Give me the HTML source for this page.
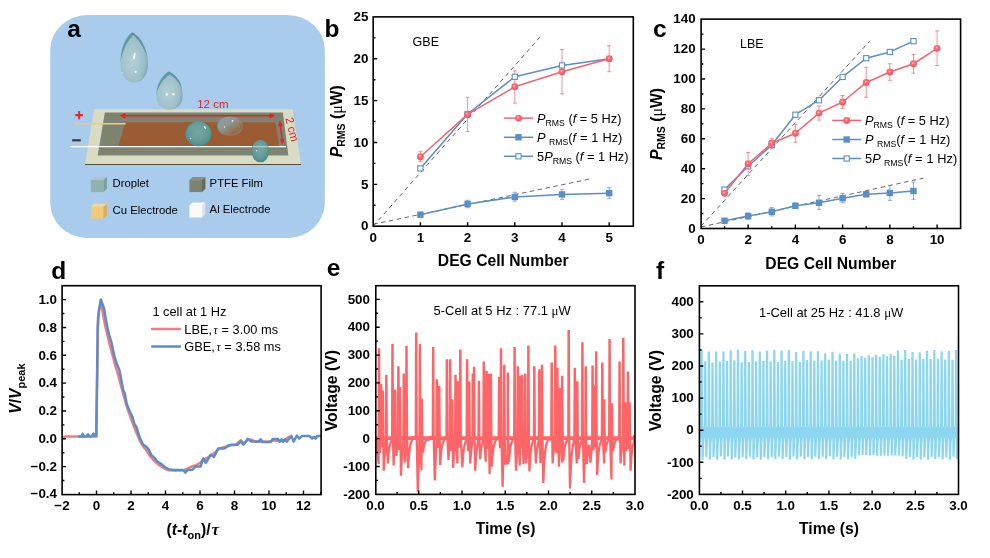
<!DOCTYPE html>
<html lang="en">
<head>
<meta charset="utf-8">
<title>DEG cell figure</title>
<style>
html,body{margin:0;padding:0;background:#fff;}
body{width:990px;height:558px;overflow:hidden;}
svg{display:block;}
text{font-family:'Liberation Sans',sans-serif;fill:#000;}
.tk{font-size:13.4px;font-weight:bold;}
.ax{font-size:15.7px;font-weight:bold;}
.pl{font-size:24.5px;font-weight:bold;}
.lg{font-size:12.8px;}
.sm{font-size:11.3px;}
.sym{font-family:'Liberation Serif','DejaVu Serif',serif;}
</style>
</head>
<body>
<svg width="990" height="558" viewBox="0 0 990 558">
<defs>
<radialGradient id="gball" cx="0.43" cy="0.4" r="0.62">
<stop offset="0" stop-color="#fe9aa0"/><stop offset="0.3" stop-color="#fb707a"/><stop offset="0.7" stop-color="#f95c68"/><stop offset="1" stop-color="#f4505e"/>
</radialGradient>
<radialGradient id="gdrop" cx="0.42" cy="0.55" r="0.65">
<stop offset="0" stop-color="#b4cfd6"/><stop offset="0.7" stop-color="#9dbfc8"/><stop offset="1" stop-color="#6f9ea9"/>
</radialGradient>
<radialGradient id="gdrop2" cx="0.5" cy="0.42" r="0.62">
<stop offset="0" stop-color="#74a8a2"/><stop offset="0.6" stop-color="#649c98"/><stop offset="1" stop-color="#4a8488"/>
</radialGradient>
<linearGradient id="gdrop3" x1="0.1" y1="0.1" x2="0.9" y2="0.9">
<stop offset="0" stop-color="#7fa3ad"/><stop offset="0.4" stop-color="#8d958f"/><stop offset="0.8" stop-color="#9a6a4a"/><stop offset="1" stop-color="#8a7d70"/>
</linearGradient>
<filter id="blur1" x="-20%" y="-20%" width="140%" height="140%"><feGaussianBlur stdDeviation="0.6"/></filter>
</defs>
<rect width="990" height="558" fill="#fff"/>

<g id="panel-a">
<rect x="50.3" y="15" width="274.5" height="222.9" rx="37" ry="35" fill="#a9cbec"/>
<text class="pl" x="67.3" y="36.6">a</text>
<polygon points="85,163.6 301,163.6 301,165.1 85,165.1" fill="#4d503c"/>
<polygon points="94.1,109.2 292.5,109.2 300.9,163.9 85,163.9" fill="#d9dcc3"/>
<polygon points="104.8,112.6 282.9,112.6 288.3,155.6 97.7,155.6" fill="#7d8370"/>
<polygon points="125.3,122.3 275.4,122.3 279.2,146.3 118.4,146.3" fill="#9b5b33"/>
<line x1="74" y1="123.8" x2="125.7" y2="123.8" stroke="#f2c978" stroke-width="1.6"/>
<line x1="70.4" y1="146.7" x2="286" y2="146.7" stroke="#fff" stroke-width="1.2"/>
<line x1="124" y1="115.8" x2="271" y2="115.8" stroke="#ee1c24" stroke-width="1.4"/>
<polygon points="119.6,115.8 125.4,113.1 125.4,118.5" fill="#ee1c24"/>
<polygon points="275.3,115.8 269.5,113.1 269.5,118.5" fill="#ee1c24"/>
<line x1="280.2" y1="124.5" x2="282.2" y2="140.5" stroke="#ee1c24" stroke-width="1.4"/>
<polygon points="279.7,120.4 277.9,126.3 282.7,125.7" fill="#ee1c24"/>
<polygon points="282.7,144.6 279.7,139.3 284.5,138.7" fill="#ee1c24"/>
<text x="197.2" y="107.8" style="font-size:11.5px;fill:#ee1c24">12 cm</text>
<text transform="translate(285.2,118.2) rotate(76)" style="font-size:11.5px;fill:#ee1c24">2 cm</text>
<text x="75.1" y="119.7" style="font-size:14px;font-weight:bold;fill:#ee1c24;stroke:#ee1c24;stroke-width:0.5">+</text>
<rect x="72.2" y="139.2" width="8.6" height="2.2" fill="#3a3a3a"/>
<path d="M132.4 32.3 C140.89 37.85 147.9 46.44 147.9 64.62 C147.9 75.53 142.15 82.8 134.2 82.8 C126.25 82.8 120.5 75.53 120.5 64.62 C120.5 46.44 123.91 37.85 132.4 32.3Z" fill="url(#gdrop)"/>
<clipPath id="cd1"><path d="M132.4 32.3 C140.89 37.85 147.9 46.44 147.9 64.62 C147.9 75.53 142.15 82.8 134.2 82.8 C126.25 82.8 120.5 75.53 120.5 64.62 C120.5 46.44 123.91 37.85 132.4 32.3Z"/></clipPath>
<g clip-path="url(#cd1)"><path d="M132.4 31 C125 39 119.5 52 119.5 66 C122 51 127 41 133.4 35.2 C138.6 40 143.6 47 147 56 C145.4 46 140 37 133.4 31Z" fill="#4a8794" opacity="0.7" filter="url(#blur1)"/></g>
<ellipse cx="134.4" cy="56" rx="1" ry="3.4" fill="#fff" opacity="0.9" transform="rotate(8 134.4 56)"/>
<circle cx="135.6" cy="71.8" r="1.1" fill="#fff" opacity="0.95"/>
<circle cx="122.8" cy="73" r="0.7" fill="#fff" opacity="0.6"/>
<path d="M169 71.6 C177.12 75.8 182.6 82.3 182.6 96.05 C182.6 104.3 177.1 109.8 169.5 109.8 C161.9 109.8 156.4 104.3 156.4 96.05 C156.4 82.3 160.88 75.8 169 71.6Z" fill="url(#gdrop)"/>
<clipPath id="cd2"><path d="M169 71.6 C177.12 75.8 182.6 82.3 182.6 96.05 C182.6 104.3 177.1 109.8 169.5 109.8 C161.9 109.8 156.4 104.3 156.4 96.05 C156.4 82.3 160.88 75.8 169 71.6Z"/></clipPath>
<g clip-path="url(#cd2)"><path d="M169 70.4 C161.6 76 156 86 156 96 C158 86.4 163 79.4 169.6 74.6 C175.4 78 180.5 84 183 91 C181.6 82 176 75 169.4 70.4Z" fill="#4a8794" opacity="0.7" filter="url(#blur1)"/></g>
<circle cx="166.8" cy="94.4" r="1.2" fill="#fff" opacity="0.9"/>
<circle cx="173.4" cy="94.2" r="1.2" fill="#fff" opacity="0.9"/>
<ellipse cx="230.2" cy="126.2" rx="12.9" ry="9.8" fill="url(#gdrop3)"/>
<circle cx="232.5" cy="120.8" r="0.9" fill="#fff" opacity="0.9"/>
<circle cx="224.5" cy="127" r="0.7" fill="#fff" opacity="0.8"/>
<ellipse cx="198.4" cy="133.8" rx="13" ry="12.4" fill="url(#gdrop2)"/>
<ellipse cx="205" cy="127.5" rx="0.9" ry="1.6" fill="#fff" opacity="0.85" transform="rotate(-30 205 127.5)"/>
<circle cx="190.6" cy="138.5" r="0.7" fill="#fff" opacity="0.7"/>
<rect x="251.9" y="140" width="16.8" height="22.2" rx="8" ry="9.5" fill="url(#gdrop2)"/>
<line x1="253" y1="146.7" x2="267.6" y2="146.7" stroke="#d4e2e2" stroke-width="1" opacity="0.8"/>
<circle cx="256.5" cy="150.8" r="0.7" fill="#fff" opacity="0.8"/>
<polygon points="90.9,180.1 94.1,177.1 106.9,177.1 103.5,180.1" fill="#a9c6c3"/><rect x="90.9" y="180.1" width="12.6" height="12" fill="#90b1ae"/><polygon points="103.5,180.1 106.9,177.1 106.9,188.7 103.5,192.1" fill="#7b9f9c"/>
<polygon points="189.4,180.1 192.6,177.1 205.4,177.1 202,180.1" fill="#8d917d"/><rect x="189.4" y="180.1" width="12.6" height="12" fill="#7d8370"/><polygon points="202,180.1 205.4,177.1 205.4,188.7 202,192.1" fill="#666b59"/>
<polygon points="90.9,206.7 94.1,203.7 106.9,203.7 103.5,206.7" fill="#f7d793"/><rect x="90.9" y="206.7" width="12.6" height="12" fill="#f2c978"/><polygon points="103.5,206.7 106.9,203.7 106.9,215.3 103.5,218.7" fill="#d9ad5c"/>
<polygon points="189.4,205.5 192.6,202.5 205.4,202.5 202,205.5" fill="#ffffff"/><rect x="189.4" y="205.5" width="12.6" height="12" fill="#fbfbfb"/><polygon points="202,205.5 205.4,202.5 205.4,214.1 202,217.5" fill="#dfe2e6"/>
<text class="sm" x="112.6" y="186.8">Droplet</text>
<text class="sm" x="209.6" y="186.8">PTFE Film</text>
<text class="sm" x="112.6" y="213.8">Cu Electrode</text>
<text class="sm" x="209.6" y="212.7">Al Electrode</text>
</g>
<g id="panel-b">
<text class="pl" x="324.4" y="36.8">b</text>
<line x1="373.2" y1="226.2" x2="541.89" y2="34.9" stroke="#555" stroke-width="0.9" stroke-dasharray="4.5 3.5"/>
<line x1="373.2" y1="224.27" x2="589.38" y2="179.07" stroke="#555" stroke-width="0.9" stroke-dasharray="4.5 3.5"/>
<path d="M420.4 212.39V216.99M418.3 212.39h4.2M418.3 216.99h4.2M467.6 200.25V207.78M465.5 200.25h4.2M465.5 207.78h4.2M514.8 192.29V201.08M512.7 192.29h4.2M512.7 201.08h4.2M562 189.36V199.41M559.9 189.36h4.2M559.9 199.41h4.2M609.2 187.69V198.57M607.1 187.69h4.2M607.1 198.57h4.2" fill="none" stroke="#5b8ec9" stroke-width="1" opacity="0.7"/>
<path d="M420.4 214.65 L467.6 204.01 L514.8 196.9 L562 194.39 L609.2 193.13" fill="none" stroke="#5b8ec9" stroke-width="1.5" stroke-linejoin="round" stroke-linecap="round" />
<rect x="417.2" y="211.45" width="6.4" height="6.4" fill="#5b8ec9"/><rect x="464.4" y="200.81" width="6.4" height="6.4" fill="#5b8ec9"/><rect x="511.6" y="193.7" width="6.4" height="6.4" fill="#5b8ec9"/><rect x="558.8" y="191.19" width="6.4" height="6.4" fill="#5b8ec9"/><rect x="606" y="189.93" width="6.4" height="6.4" fill="#5b8ec9"/>
<path d="M420.4 168.43 L467.6 114.02 L514.8 76.76 L562 65.46 L609.2 58.76" fill="none" stroke="#5b8ec9" stroke-width="1.5" stroke-linejoin="round" stroke-linecap="round" />
<path d="M420.4 151.27V161.32M418.3 151.27h4.2M418.3 161.32h4.2M467.6 97.27V131.6M465.5 97.27h4.2M465.5 131.6h4.2M514.8 70.9V103.13M512.7 70.9h4.2M512.7 103.13h4.2M562 49.55V93.92M559.9 49.55h4.2M559.9 93.92h4.2M609.2 45.78V71.74M607.1 45.78h4.2M607.1 71.74h4.2" fill="none" stroke="#f6626c" stroke-width="1" opacity="0.7"/>
<path d="M420.4 156.71 L467.6 114.43 L514.8 86.81 L562 71.74 L609.2 58.76" fill="none" stroke="#f6626c" stroke-width="1.5" stroke-linejoin="round" stroke-linecap="round" />
<rect x="417.8" y="165.83" width="5.2" height="5.2" fill="#fff" stroke="#5b8ec9" stroke-width="1.1"/><rect x="465" y="111.42" width="5.2" height="5.2" fill="#fff" stroke="#5b8ec9" stroke-width="1.1"/><rect x="512.2" y="74.16" width="5.2" height="5.2" fill="#fff" stroke="#5b8ec9" stroke-width="1.1"/><rect x="559.4" y="62.86" width="5.2" height="5.2" fill="#fff" stroke="#5b8ec9" stroke-width="1.1"/>
<circle cx="420.4" cy="156.71" r="3.45" fill="url(#gball)"/><circle cx="419.9" cy="156.01" r="0.8" fill="#fff" opacity="0.55"/><circle cx="467.6" cy="114.43" r="3.45" fill="url(#gball)"/><circle cx="467.1" cy="113.73" r="0.8" fill="#fff" opacity="0.55"/><circle cx="514.8" cy="86.81" r="3.45" fill="url(#gball)"/><circle cx="514.3" cy="86.11" r="0.8" fill="#fff" opacity="0.55"/><circle cx="562" cy="71.74" r="3.45" fill="url(#gball)"/><circle cx="561.5" cy="71.04" r="0.8" fill="#fff" opacity="0.55"/><circle cx="609.2" cy="58.76" r="3.45" fill="url(#gball)"/><circle cx="608.7" cy="58.06" r="0.8" fill="#fff" opacity="0.55"/>
<rect x="373.2" y="16.9" width="260.1" height="209.3" fill="none" stroke="#000" stroke-width="1.6"/>
<path d="M420.4 226.2v-4.0M467.6 226.2v-4.0M514.8 226.2v-4.0M562 226.2v-4.0M609.2 226.2v-4.0M373.2 184.34h4.0M373.2 142.48h4.0M373.2 100.62h4.0M373.2 58.76h4.0M373.2 205.27h2.3M373.2 163.41h2.3M373.2 121.55h2.3M373.2 79.69h2.3M373.2 37.83h2.3" stroke="#000" stroke-width="1.4" fill="none"/>
<text class="tk" x="373.2" y="241.6" text-anchor="middle">0</text><text class="tk" x="420.4" y="241.6" text-anchor="middle">1</text><text class="tk" x="467.6" y="241.6" text-anchor="middle">2</text><text class="tk" x="514.8" y="241.6" text-anchor="middle">3</text><text class="tk" x="562" y="241.6" text-anchor="middle">4</text><text class="tk" x="609.2" y="241.6" text-anchor="middle">5</text>
<text class="tk" x="368.5" y="230.45" text-anchor="end">0</text><text class="tk" x="368.5" y="188.59" text-anchor="end">5</text><text class="tk" x="368.5" y="146.73" text-anchor="end">10</text><text class="tk" x="368.5" y="104.87" text-anchor="end">15</text><text class="tk" x="368.5" y="63.01" text-anchor="end">20</text><text class="tk" x="368.5" y="21.15" text-anchor="end">25</text>
<text class="ax" x="503.2" y="265.9" text-anchor="middle">DEG Cell Number</text>
<text class="ax" transform="translate(341.9,157.2) rotate(-90)"><tspan font-style="italic">P</tspan><tspan font-size="10.5" dy="3.2">RMS</tspan><tspan dy="-3.2"> (</tspan><tspan class="sym" font-weight="normal" font-size="16">μ</tspan>W)</text>
<text x="412.6" y="45.9" style="font-size:12.5px">GBE</text>
<line x1="503.9" y1="118.1" x2="533.1" y2="118.1" stroke="#f6626c" stroke-width="1.5"/><circle cx="518.5" cy="118.1" r="3.45" fill="url(#gball)"/><circle cx="518" cy="117.4" r="0.8" fill="#fff" opacity="0.55"/><line x1="503.9" y1="137.3" x2="533.1" y2="137.3" stroke="#5b8ec9" stroke-width="1.5"/><rect x="515.3" y="134.1" width="6.4" height="6.4" fill="#5b8ec9"/><line x1="503.9" y1="156.3" x2="533.1" y2="156.3" stroke="#5b8ec9" stroke-width="1.5"/><rect x="515.9" y="153.7" width="5.2" height="5.2" fill="#fff" stroke="#5b8ec9" stroke-width="1.1"/><text class="lg" x="537" y="122.9"><tspan font-style="italic">P</tspan><tspan font-size="8.7" dy="2.8">RMS</tspan><tspan dy="-2.8"> (</tspan><tspan font-style="italic">f</tspan> = 5 Hz)</text><text class="lg" x="537" y="142" word-spacing="0.35"><tspan font-style="italic">P</tspan><tspan font-size="8.7" dy="2.8" dx="3.4">RMS</tspan><tspan dy="-2.8">(</tspan><tspan font-style="italic">f</tspan> = 1 Hz)</text><text class="lg" x="537" y="160.7">5<tspan font-style="italic">P</tspan><tspan font-size="8.7" dy="2.8">RMS</tspan><tspan dy="-2.8"> (</tspan><tspan font-style="italic">f</tspan> = 1 Hz)</text>
</g>
<g id="panel-c">
<text class="pl" x="652.9" y="36.7">c</text>
<line x1="700.9" y1="226.26" x2="869.55" y2="41.33" stroke="#555" stroke-width="0.9" stroke-dasharray="4.5 3.5"/>
<line x1="700.9" y1="227" x2="923.4" y2="178.12" stroke="#555" stroke-width="0.9" stroke-dasharray="4.5 3.5"/>
<path d="M724.52 218.93V222.52M722.42 218.93h4.2M722.42 222.52h4.2M748.14 212.95V219.23M746.04 212.95h4.2M746.04 219.23h4.2M771.76 207.57V215.94M769.66 207.57h4.2M769.66 215.94h4.2M795.38 203.09V208.32M793.28 203.09h4.2M793.28 208.32h4.2M819 195.61V209.36M816.9 195.61h4.2M816.9 209.36h4.2M842.62 193.52V202.64M840.52 193.52h4.2M840.52 202.64h4.2M866.24 191.72V196.81M864.14 191.72h4.2M864.14 196.81h4.2M889.86 185.44V200.39M887.76 185.44h4.2M887.76 200.39h4.2M913.48 182.16V199.35M911.38 182.16h4.2M911.38 199.35h4.2" fill="none" stroke="#5b8ec9" stroke-width="1" opacity="0.7"/>
<path d="M724.52 220.73 L748.14 216.09 L771.76 211.76 L795.38 205.78 L819 202.79 L842.62 198.15 L866.24 194.26 L889.86 192.92 L913.48 190.98" fill="none" stroke="#5b8ec9" stroke-width="1.5" stroke-linejoin="round" stroke-linecap="round" />
<rect x="721.32" y="217.53" width="6.4" height="6.4" fill="#5b8ec9"/><rect x="744.94" y="212.89" width="6.4" height="6.4" fill="#5b8ec9"/><rect x="768.56" y="208.56" width="6.4" height="6.4" fill="#5b8ec9"/><rect x="792.18" y="202.58" width="6.4" height="6.4" fill="#5b8ec9"/><rect x="815.8" y="199.59" width="6.4" height="6.4" fill="#5b8ec9"/><rect x="839.42" y="194.95" width="6.4" height="6.4" fill="#5b8ec9"/><rect x="863.04" y="191.06" width="6.4" height="6.4" fill="#5b8ec9"/><rect x="886.66" y="189.72" width="6.4" height="6.4" fill="#5b8ec9"/><rect x="910.28" y="187.78" width="6.4" height="6.4" fill="#5b8ec9"/>
<path d="M724.52 189.63 L748.14 166.31 L771.76 145.08 L795.38 114.73 L819 100.23 L842.62 76.91 L866.24 58.22 L889.86 51.94 L913.48 41.18" fill="none" stroke="#5b8ec9" stroke-width="1.5" stroke-linejoin="round" stroke-linecap="round" />
<rect x="721.92" y="187.03" width="5.2" height="5.2" fill="#fff" stroke="#5b8ec9" stroke-width="1.1"/><rect x="745.54" y="163.71" width="5.2" height="5.2" fill="#fff" stroke="#5b8ec9" stroke-width="1.1"/><rect x="769.16" y="142.48" width="5.2" height="5.2" fill="#fff" stroke="#5b8ec9" stroke-width="1.1"/><rect x="792.78" y="112.13" width="5.2" height="5.2" fill="#fff" stroke="#5b8ec9" stroke-width="1.1"/><rect x="816.4" y="97.63" width="5.2" height="5.2" fill="#fff" stroke="#5b8ec9" stroke-width="1.1"/><rect x="840.02" y="74.31" width="5.2" height="5.2" fill="#fff" stroke="#5b8ec9" stroke-width="1.1"/><rect x="863.64" y="55.62" width="5.2" height="5.2" fill="#fff" stroke="#5b8ec9" stroke-width="1.1"/><rect x="887.26" y="49.34" width="5.2" height="5.2" fill="#fff" stroke="#5b8ec9" stroke-width="1.1"/><rect x="910.88" y="38.58" width="5.2" height="5.2" fill="#fff" stroke="#5b8ec9" stroke-width="1.1"/>
<path d="M724.52 191.12V195.61M722.42 191.12h4.2M722.42 195.61h4.2M748.14 152.55V175.58M746.04 152.55h4.2M746.04 175.58h4.2M771.76 138.8V147.77M769.66 138.8h4.2M769.66 147.77h4.2M795.38 124.6V142.24M793.28 124.6h4.2M793.28 142.24h4.2M819 105.91V120.11M816.9 105.91h4.2M816.9 120.11h4.2M842.62 95.44V108.3M840.52 95.44h4.2M840.52 108.3h4.2M866.24 67.34V97.24M864.14 67.34h4.2M864.14 97.24h4.2M889.86 63.75V80.35M887.76 63.75h4.2M887.76 80.35h4.2M913.48 54.48V73.17M911.38 54.48h4.2M911.38 73.17h4.2M937.1 30.86V65.54M935 30.86h4.2M935 65.54h4.2" fill="none" stroke="#f6626c" stroke-width="1" opacity="0.7"/>
<path d="M724.52 193.37 L748.14 163.77 L771.76 143.28 L795.38 133.27 L819 113.09 L842.62 102.02 L866.24 82.44 L889.86 71.97 L913.48 63.75 L937.1 48.35" fill="none" stroke="#f6626c" stroke-width="1.5" stroke-linejoin="round" stroke-linecap="round" />
<circle cx="724.52" cy="193.37" r="3.45" fill="url(#gball)"/><circle cx="724.02" cy="192.67" r="0.8" fill="#fff" opacity="0.55"/><circle cx="748.14" cy="163.77" r="3.45" fill="url(#gball)"/><circle cx="747.64" cy="163.07" r="0.8" fill="#fff" opacity="0.55"/><circle cx="771.76" cy="143.28" r="3.45" fill="url(#gball)"/><circle cx="771.26" cy="142.59" r="0.8" fill="#fff" opacity="0.55"/><circle cx="795.38" cy="133.27" r="3.45" fill="url(#gball)"/><circle cx="794.88" cy="132.57" r="0.8" fill="#fff" opacity="0.55"/><circle cx="819" cy="113.09" r="3.45" fill="url(#gball)"/><circle cx="818.5" cy="112.39" r="0.8" fill="#fff" opacity="0.55"/><circle cx="842.62" cy="102.02" r="3.45" fill="url(#gball)"/><circle cx="842.12" cy="101.32" r="0.8" fill="#fff" opacity="0.55"/><circle cx="866.24" cy="82.44" r="3.45" fill="url(#gball)"/><circle cx="865.74" cy="81.74" r="0.8" fill="#fff" opacity="0.55"/><circle cx="889.86" cy="71.97" r="3.45" fill="url(#gball)"/><circle cx="889.36" cy="71.27" r="0.8" fill="#fff" opacity="0.55"/><circle cx="913.48" cy="63.75" r="3.45" fill="url(#gball)"/><circle cx="912.98" cy="63.05" r="0.8" fill="#fff" opacity="0.55"/><circle cx="937.1" cy="48.35" r="3.45" fill="url(#gball)"/><circle cx="936.6" cy="47.65" r="0.8" fill="#fff" opacity="0.55"/>
<rect x="701.1" y="19.1" width="259.5" height="209.4" fill="none" stroke="#000" stroke-width="1.6"/>
<path d="M748.14 228.5v-4.0M795.38 228.5v-4.0M842.62 228.5v-4.0M889.86 228.5v-4.0M937.1 228.5v-4.0M724.52 228.5v-2.3M771.76 228.5v-2.3M819 228.5v-2.3M866.24 228.5v-2.3M913.48 228.5v-2.3M701.1 198.6h4.0M701.1 168.7h4.0M701.1 138.8h4.0M701.1 108.9h4.0M701.1 79h4.0M701.1 49.1h4.0M701.1 213.55h2.3M701.1 183.65h2.3M701.1 153.75h2.3M701.1 123.85h2.3M701.1 93.95h2.3M701.1 64.05h2.3M701.1 34.15h2.3" stroke="#000" stroke-width="1.4" fill="none"/>
<text class="tk" x="700.9" y="243.5" text-anchor="middle">0</text><text class="tk" x="748.14" y="243.5" text-anchor="middle">2</text><text class="tk" x="795.38" y="243.5" text-anchor="middle">4</text><text class="tk" x="842.62" y="243.5" text-anchor="middle">6</text><text class="tk" x="889.86" y="243.5" text-anchor="middle">8</text><text class="tk" x="937.1" y="243.5" text-anchor="middle">10</text>
<text class="tk" x="695.6" y="232.75" text-anchor="end">0</text><text class="tk" x="695.6" y="202.85" text-anchor="end">20</text><text class="tk" x="695.6" y="172.95" text-anchor="end">40</text><text class="tk" x="695.6" y="143.05" text-anchor="end">60</text><text class="tk" x="695.6" y="113.15" text-anchor="end">80</text><text class="tk" x="695.6" y="83.25" text-anchor="end">100</text><text class="tk" x="695.6" y="53.35" text-anchor="end">120</text><text class="tk" x="695.6" y="23.45" text-anchor="end">140</text>
<text class="ax" x="830.7" y="268.9" text-anchor="middle">DEG Cell Number</text>
<text class="ax" transform="translate(661.9,160) rotate(-90)"><tspan font-style="italic">P</tspan><tspan font-size="10.5" dy="3.2">RMS</tspan><tspan dy="-3.2"> (</tspan><tspan class="sym" font-weight="normal" font-size="16">μ</tspan>W)</text>
<text x="740" y="47.7" style="font-size:12.5px">LBE</text>
<line x1="832.2" y1="120.4" x2="861.2" y2="120.4" stroke="#f6626c" stroke-width="1.5"/><circle cx="846.7" cy="120.4" r="3.45" fill="url(#gball)"/><circle cx="846.2" cy="119.7" r="0.8" fill="#fff" opacity="0.55"/><line x1="832.2" y1="139.5" x2="861.2" y2="139.5" stroke="#5b8ec9" stroke-width="1.5"/><rect x="843.5" y="136.3" width="6.4" height="6.4" fill="#5b8ec9"/><line x1="832.2" y1="158.5" x2="861.2" y2="158.5" stroke="#5b8ec9" stroke-width="1.5"/><rect x="844.1" y="155.9" width="5.2" height="5.2" fill="#fff" stroke="#5b8ec9" stroke-width="1.1"/><text class="lg" x="865" y="125"><tspan font-style="italic">P</tspan><tspan font-size="8.7" dy="2.8">RMS</tspan><tspan dy="-2.8"> (</tspan><tspan font-style="italic">f</tspan> = 5 Hz)</text><text class="lg" x="865" y="144" word-spacing="0.35"><tspan font-style="italic">P</tspan><tspan font-size="8.7" dy="2.8" dx="3.4">RMS</tspan><tspan dy="-2.8">(</tspan><tspan font-style="italic">f</tspan> = 1 Hz)</text><text class="lg" x="865" y="162.9" word-spacing="0.3">5<tspan font-style="italic">P</tspan><tspan font-size="8.7" dy="2.8" dx="3.4">RMS</tspan><tspan dy="-2.8">(</tspan><tspan font-style="italic">f</tspan> = 1 Hz)</text>
</g>
<g id="panel-d">
<text class="pl" x="51.2" y="279">d</text>
<path d="M62.5 438.6 L64.2 436.6 L96.2 436.6 L97.2 380 L98 318 L100.9 300.2 L102.4 310 L104 320 L106.4 331 L109.4 343.5 L112.4 354.6 L116 368 L118.5 376 L121 386 L123.5 395 L126 404 L128.5 411.5 L131 418.5 L134 426.5 L137 434 L140 441 L143 446.2 L146.5 450.4 L150 456 L153.5 460 L157 463.4 L161 466.4 L165 468.8 L169 470.2 L175 470.4 L184 470.2 L188 468.4 L192 466.4 L196 465.2 L200 463 L203 459.6 L207 458 L211 455 L215 452.6 L219 448.6 L223 447.4 L227 446.6 L231 444.8 L236 444.4 L240.8 440.2 L244 443.4 L248.5 439.4 L252 439.8 L256 441.8 L262 441.4 L268 441.8 L273 440.4 L278 440.8 L283 441.4 L287 438.2 L289.7 436.6" fill="none" stroke="#f5797f" stroke-width="2.5" stroke-linejoin="round" stroke-linecap="round" />
<path d="M79 436.6 L81.5 436.6 L82.6 433.8 L84 436.8 L86.5 436.6 L88 434.2 L89.5 436.4 L92 436.2 L93.5 433.6 L95 435.8 L96.3 436 L97 380 L97.7 328 L98.8 311 L100.9 299.6 L102.6 304.5 L104.1 308.7 L105.6 318 L107.3 327.4 L109.2 335 L111.2 341.5 L114.2 355.3 L117 364.5 L119.4 370 L121.3 380 L123.2 390 L124.8 393.5 L126.7 404 L129.6 411 L132.3 416.6 L134.6 424.5 L136.6 427.3 L139.5 437 L143 444.5 L145.8 446.4 L148.4 449.2 L151.6 455.3 L154.2 457.6 L157 461.3 L159.8 463 L162.4 464.9 L165.6 467.5 L168.8 469.2 L173.1 469.9 L182.8 469.9 L185.4 472.5 L187.7 469.9 L192.5 469.7 L195.7 466.5 L200.6 466.5 L203.2 458.5 L205.8 462.8 L210.8 454.8 L214 457 L218.3 448.4 L224.7 448.4 L228.6 445.2 L237.6 444.7 L240.6 441.4 L243.6 444.6 L247.7 438.7 L251.3 441.5 L258.3 441.6 L260.6 439.4 L262.8 442.1 L270.8 442.1 L272.6 439.1 L278 439.1 L279.8 441.6 L281.6 439.4 L283.4 441.6 L285.2 439.4 L287 441.6 L291.4 435.9 L293.6 441.6 L296.8 435.5 L299.2 438.6 L302.2 435.9 L309.4 435.9 L312.1 438.6 L313.9 436.8 L315.7 438.6 L317.4 435.9 L320.5 435.9" fill="none" stroke="#5b8ec9" stroke-width="2.5" stroke-linejoin="round" stroke-linecap="round" />
<rect x="62.1" y="285.7" width="259" height="208.9" fill="none" stroke="#000" stroke-width="1.6"/>
<path d="M96.5 494.6v-4.0M131 494.6v-4.0M165.5 494.6v-4.0M200 494.6v-4.0M234.5 494.6v-4.0M269 494.6v-4.0M303.5 494.6v-4.0M79.25 494.6v-2.3M113.75 494.6v-2.3M148.25 494.6v-2.3M182.75 494.6v-2.3M217.25 494.6v-2.3M251.75 494.6v-2.3M286.25 494.6v-2.3M320.75 494.6v-2.3M62.1 466.64h4.0M62.1 438.8h4.0M62.1 410.96h4.0M62.1 383.12h4.0M62.1 355.28h4.0M62.1 327.44h4.0M62.1 299.6h4.0M62.1 480.56h2.3M62.1 452.72h2.3M62.1 424.88h2.3M62.1 397.04h2.3M62.1 369.2h2.3M62.1 341.36h2.3M62.1 313.52h2.3" stroke="#000" stroke-width="1.4" fill="none"/>
<text class="tk" x="62" y="510" text-anchor="middle">−2</text><text class="tk" x="96.5" y="510" text-anchor="middle">0</text><text class="tk" x="131" y="510" text-anchor="middle">2</text><text class="tk" x="165.5" y="510" text-anchor="middle">4</text><text class="tk" x="200" y="510" text-anchor="middle">6</text><text class="tk" x="234.5" y="510" text-anchor="middle">8</text><text class="tk" x="269" y="510" text-anchor="middle">10</text><text class="tk" x="303.5" y="510" text-anchor="middle">12</text>
<text class="tk" x="57" y="497.93" text-anchor="end">−0.4</text><text class="tk" x="57" y="470.89" text-anchor="end">−0.2</text><text class="tk" x="57" y="443.05" text-anchor="end">0.0</text><text class="tk" x="57" y="415.21" text-anchor="end">0.2</text><text class="tk" x="57" y="387.37" text-anchor="end">0.4</text><text class="tk" x="57" y="359.53" text-anchor="end">0.6</text><text class="tk" x="57" y="331.69" text-anchor="end">0.8</text><text class="tk" x="57" y="303.85" text-anchor="end">1.0</text>
<text class="ax" x="166.6" y="535.4">(<tspan font-style="italic">t</tspan>-<tspan font-style="italic">t</tspan><tspan font-size="11" dy="3.4">on</tspan><tspan dy="-3.4">)/</tspan><tspan class="sym" font-style="italic" font-size="17" dx="0.8">τ</tspan></text>
<text class="ax" transform="translate(20.9,413.8) rotate(-90)"><tspan font-style="italic">V</tspan>/<tspan font-style="italic">V</tspan><tspan font-size="11" dy="3.6">peak</tspan></text>
<text class="lg" x="152.4" y="316.4">1 cell at 1 Hz</text>
<line x1="152.2" y1="329.1" x2="179.9" y2="329.1" stroke="#f5797f" stroke-width="2.5" stroke-linecap="round"/>
<line x1="152.2" y1="346.5" x2="179.9" y2="346.5" stroke="#5b8ec9" stroke-width="2.5" stroke-linecap="round"/>
<text class="lg" x="184.3" y="333.7">LBE,<tspan class="sym" font-style="italic" font-size="11.5" dx="1.5">τ</tspan><tspan dx="0.3"> = 3.00 ms</tspan></text>
<text class="lg" x="184.3" y="351">GBE,<tspan class="sym" font-style="italic" font-size="11.5" dx="1.5">τ</tspan><tspan dx="0.3"> = 3.58 ms</tspan></text>
</g>
<g id="panel-e">
<text class="pl" x="326.7" y="276.1">e</text>
<clipPath id="clipE"><rect x="375.8" y="285.7" width="259.2" height="208.7"/></clipPath>
<g clip-path="url(#clipE)"><line x1="375.8" y1="438.04" x2="635.0" y2="438.04" stroke="#fc6668" stroke-width="3.8"/><path d="M376.3 438.6 L378.6 464.21 L378.9 349.51 L379.1 349.51 L379.5 437.49 L380.04 452.85 L380.68 439.16 L381 384.87 L381.2 384.87 L381.6 437.49 L381.96 447.2 L382.38 439.16 L382.7 391.55 L382.9 391.55 L383.3 437.49 L383.75 470.62 L384.45 458.68 L385.15 451.19 L385.88 439.06 L386.2 375.96 L386.4 375.96 L386.8 437.49 L387.9 463.38 L388.6 454.14 L389.3 448.34 L390 444.71 L390.7 442.43 L391.4 441 L392.08 439.43 L392.4 345.06 L392.6 345.06 L393 437.49 L393.6 465.6 L394.78 438.61 L395.1 390.72 L395.3 390.72 L395.7 437.49 L396.35 455.84 L397.05 449.41 L397.98 439.28 L398.3 367.33 L398.5 367.33 L398.9 437.49 L399.21 450 L399.58 439.16 L399.9 388.21 L400.1 388.21 L400.5 437.49 L400.95 475.63 L401.65 461.82 L402.35 453.16 L403.38 439.53 L403.7 374.57 L403.9 374.57 L404.3 437.49 L404.9 462.54 L406.08 438.6 L406.4 347.01 L406.6 347.01 L407 437.49 L408.1 468.11 L408.8 457.11 L409.5 450.2 L410.2 445.88 L410.9 443.16 L411.6 441.46 L412.3 436.95 L413.3 437.37 L414.3 437.5 L415.78 439.1 L416.1 333.64 L416.3 333.64 L416.7 437.49 L417.8 491.77 L418.5 471.95 L419.48 438.22 L419.8 345.06 L420 345.06 L420.4 437.49 L421.5 470.34 L421.8 399.62 L422 399.62 L422.4 437.49 L423.05 452.63 L423.75 447.4 L424.45 444.12 L425.15 442.06 L425.85 440.77 L426.55 439.27 L427.55 439.65 L428.55 439.89 L429.55 439.49 L430.55 436.91 L431.55 437.27 L432.78 437.47 L433.1 348.12 L433.3 348.12 L433.7 437.49 L434.8 480.36 L435.5 464.79 L436.48 437.49 L436.8 380.41 L437 380.41 L437.4 437.49 L438.03 447.91 L438.78 439.16 L439.1 386.82 L439.3 386.82 L439.7 437.49 L440.15 465.05 L440.85 455.19 L441.55 449 L442.25 445.12 L442.95 442.69 L443.65 441.16 L444.35 439.57 L445.35 439.15 L446.48 437.97 L446.8 360.37 L447 360.37 L447.4 437.49 L448.5 460.04 L449.78 437.68 L450.1 360.37 L450.3 360.37 L450.7 437.49 L451.15 451.12 L451.68 439.16 L452 400.46 L452.2 400.46 L452.6 437.49 L453.05 467.83 L453.75 456.93 L454.45 450.1 L455.08 437.33 L455.4 375.96 L455.6 375.96 L456 437.49 L457.4 463.38 L457.8 382.36 L458 382.36 L458.4 437.49 L459.07 447.6 L459.88 439.16 L460.2 350.63 L460.4 350.63 L460.8 437.49 L462.3 467.28 L463 456.58 L463.7 449.88 L464.4 445.67 L465.1 443.03 L465.8 441.38 L466.68 437.26 L467 360.37 L467.2 360.37 L467.6 437.49 L468.14 451.12 L468.78 439.16 L469.1 382.64 L469.3 382.64 L469.7 437.49 L470.15 463.38 L470.85 454.14 L471.55 448.34 L472.38 439.47 L472.7 374.57 L472.9 374.57 L473.45 419.39 L474 367.89 L474.2 367.89 L474.6 437.49 L475.2 470.62 L475.9 458.68 L476.6 451.19 L477.3 446.5 L478.48 438.03 L478.8 381.81 L479 381.81 L479.4 437.49 L480.1 459.2 L480.8 451.52 L481.5 446.7 L482.2 443.68 L483.38 437.84 L483.7 362.6 L483.9 362.6 L484.3 437.49 L485.7 461.71 L486.4 371.78 L486.6 371.78 L487 437.49 L487.54 449.29 L488.18 439.16 L488.5 375.12 L488.7 375.12 L489.1 437.49 L489.55 473.96 L490.48 438.31 L490.8 374.85 L491 374.85 L491.4 437.49 L491.85 466.72 L492.55 456.23 L493.25 449.66 L493.95 445.53 L494.65 442.95 L495.35 441.33 L496.05 439.63 L497.05 438.56 L498.05 439.95 L498.68 437.11 L499 377.91 L499.2 377.91 L499.6 437.49 L500.05 448.31 L500.58 439.16 L500.9 349.51 L501.1 349.51 L501.5 437.49 L502.6 486.76 L503.88 437.3 L504.2 365.94 L504.4 365.94 L504.8 437.49 L505.45 464.76 L506.15 455 L507.8 464.49 L507.7 373.73 L507.9 373.73 L508.3 437.49 L508.95 461.95 L509.65 453.24 L510.35 447.78 L511.05 444.36 L511.75 442.21 L512.45 440.86 L513.15 438.29 L514.18 438.88 L514.5 348.12 L514.7 348.12 L515.1 437.49 L516 470.62 L516.7 458.68 L517.38 437.18 L517.7 367.33 L517.9 367.33 L518.3 437.49 L519.8 465.6 L520.2 376.8 L520.4 376.8 L520.8 437.49 L521.21 448.49 L521.68 439.16 L522 375.96 L522.2 375.96 L522.6 437.49 L523.5 464.21 L524.78 438.12 L525.1 374.57 L525.3 374.57 L525.7 437.49 L526.15 463.1 L526.85 453.96 L527.98 437.26 L528.3 346.73 L528.5 346.73 L528.9 437.49 L529.4 471.45 L530.1 459.2 L530.8 451.52 L531.5 446.7 L532.2 443.68 L532.9 441.79 L533.88 437.35 L534.2 367.33 L534.4 367.33 L534.8 437.49 L535.9 463.38 L536.6 454.14 L537.3 448.34 L538 444.71 L538.88 438.3 L539.2 370.39 L539.4 370.39 L539.8 437.49 L540.45 463.15 L541.58 438.56 L541.9 365.94 L542.1 365.94 L542.5 437.49 L543.3 482.87 L544 466.36 L544.7 456.01 L545.4 449.52 L546.1 445.45 L546.8 442.89 L547.5 441.29 L548.2 438.1 L549.2 438.71 L550.2 439.69 L551.28 438.86 L551.6 363.71 L551.8 363.71 L552.2 437.49 L552.65 463.38 L553.35 454.14 L554.05 448.34 L554.88 437.45 L555.2 346.73 L555.4 346.73 L555.8 437.49 L556.34 453.3 L556.98 439.16 L557.3 369 L557.5 369 L557.9 437.49 L559 466.72 L559.7 389.04 L559.9 389.04 L560.3 437.49 L562.2 462.54 L562.1 376.8 L562.3 376.8 L562.7 437.49 L563.35 460.85 L564.05 452.55 L564.75 447.35 L565.45 444.09 L566.15 442.04 L566.85 440.76 L567.55 440.11 L568.28 439.58 L568.6 331.14 L568.8 331.14 L569.2 437.49 L570 488.43 L570.7 469.85 L571.4 458.2 L572.1 450.89 L572.8 446.31 L573.5 443.43 L574.38 437.97 L574.7 369 L574.9 369 L575.3 437.49 L576.8 463.38 L577.2 382.36 L577.4 382.36 L577.8 437.49 L578.45 458.85 L579.15 451.3 L579.85 446.56 L580.55 443.59 L581.25 441.73 L581.98 438.93 L582.3 343.39 L582.5 343.39 L582.9 437.49 L584 482.87 L585.28 438.23 L585.6 367.33 L585.8 367.33 L586.2 437.49 L586.85 464.26 L587.55 454.69 L588.25 448.69 L588.95 444.93 L590.5 462.54 L591.2 453.61 L592.18 438.4 L592.5 366.77 L592.7 366.77 L593.1 437.49 L593.55 450.09 L594.08 439.16 L594.4 386.54 L594.6 386.54 L595 437.49 L595.36 446.93 L595.78 439.16 L596.1 352.3 L596.3 352.3 L596.7 437.49 L597.15 475.07 L597.85 461.47 L598.55 452.94 L599.25 447.59 L599.95 444.24 L600.65 442.14 L601.88 438.76 L602.2 363.71 L602.4 363.71 L602.8 437.49 L604.2 463.38 L604.1 400.46 L604.3 400.46 L604.7 437.49 L605.35 452.33 L606.05 447.21 L606.75 444 L607.45 441.99 L608.15 440.72 L609.18 436.94 L609.5 340.05 L609.7 340.05 L610.1 437.49 L611.5 479.52 L611.9 404.36 L612.1 404.36 L612.5 437.49 L613.15 450.93 L613.85 446.33 L614.55 443.45 L615.25 441.64 L615.95 439.56 L616.95 438.78 L617.95 439.54 L619.18 437.95 L619.5 362.6 L619.7 362.6 L620.1 437.49 L620.55 463.38 L621.25 454.14 L621.95 448.34 L622.88 438.94 L623.2 338.93 L623.4 338.93 L623.8 437.49 L624.4 465.6 L625.2 403.52 L625.4 403.52 L625.8 437.49 L626.45 451.23 L627.58 438.72 L627.9 372.62 L628.1 372.62 L628.5 437.49 L628.82 449.16 L629.18 439.16 L629.5 403.52 L629.7 403.52 L630.1 437.49 L630.55 470.62 L631.25 458.68 L631.95 451.19 L632.65 446.5 L633.35 443.55 L634.05 441.7 L634.75 437.57 L634.2 435.82" fill="none" stroke="#fc6668" stroke-width="2.3" stroke-linejoin="miter" stroke-linecap="round" stroke-miterlimit="1.5"/></g>
<rect x="375.8" y="285.7" width="259.2" height="208.7" fill="none" stroke="#000" stroke-width="1.6"/>
<path d="M418.75 494.4v-4.0M462 494.4v-4.0M505.25 494.4v-4.0M548.5 494.4v-4.0M591.75 494.4v-4.0M397.12 494.4v-2.3M440.38 494.4v-2.3M483.62 494.4v-2.3M526.88 494.4v-2.3M570.12 494.4v-2.3M613.38 494.4v-2.3M375.8 466.44h4.0M375.8 438.6h4.0M375.8 410.76h4.0M375.8 382.92h4.0M375.8 355.08h4.0M375.8 327.24h4.0M375.8 299.4h4.0M375.8 480.36h2.3M375.8 452.52h2.3M375.8 424.68h2.3M375.8 396.84h2.3M375.8 369h2.3M375.8 341.16h2.3M375.8 313.32h2.3" stroke="#000" stroke-width="1.4" fill="none"/>
<text class="tk" x="375.5" y="509.6" text-anchor="middle">0.0</text><text class="tk" x="418.75" y="509.6" text-anchor="middle">0.5</text><text class="tk" x="462" y="509.6" text-anchor="middle">1.0</text><text class="tk" x="505.25" y="509.6" text-anchor="middle">1.5</text><text class="tk" x="548.5" y="509.6" text-anchor="middle">2.0</text><text class="tk" x="591.75" y="509.6" text-anchor="middle">2.5</text><text class="tk" x="635" y="509.6" text-anchor="middle">3.0</text>
<text class="tk" x="370" y="498.53" text-anchor="end">-200</text><text class="tk" x="370" y="470.69" text-anchor="end">-100</text><text class="tk" x="370" y="442.85" text-anchor="end">0</text><text class="tk" x="370" y="415.01" text-anchor="end">100</text><text class="tk" x="370" y="387.17" text-anchor="end">200</text><text class="tk" x="370" y="359.33" text-anchor="end">300</text><text class="tk" x="370" y="331.49" text-anchor="end">400</text><text class="tk" x="370" y="303.65" text-anchor="end">500</text>
<text class="ax" x="505.6" y="534.3" text-anchor="middle">Time (s)</text>
<text class="ax" style="font-size:15.8px" transform="translate(337.4,431.3) rotate(-90)">Voltage (V)</text>
<text class="lg" style="font-size:12.95px" x="433.6" y="314.7">5-Cell at 5 Hz : 77.1 <tspan class="sym" font-size="13">μ</tspan>W</text>
</g>
<g id="panel-f">
<text class="pl" x="655.9" y="278.7">f</text>
<clipPath id="clipF"><rect x="699.4" y="285.8" width="259.1" height="208.59999999999997"/></clipPath>
<g clip-path="url(#clipF)"><path d="M699.8 430.2 L698.81 456.22 L699.11 456.22 L699.71 441.91 L700.31 436.62 L700.86 431.48 L701.05 427.63 L701.4 351.06 L701.8 351.06 L702.45 458.86 L702.75 458.86 L703.35 443.1 L703.95 436.62 L704.5 431.48 L704.69 427.63 L705.04 362.23 L705.44 362.23 L706.09 456.01 L706.39 456.01 L706.99 441.81 L707.59 436.62 L708.14 431.48 L708.32 427.63 L708.67 352.39 L709.07 352.39 L709.72 458.44 L710.02 458.44 L710.62 442.91 L711.22 436.62 L711.77 431.48 L711.96 427.63 L712.31 363.35 L712.71 363.35 L713.36 455.94 L713.66 455.94 L714.26 441.78 L714.86 436.62 L715.41 431.48 L715.59 427.63 L715.94 352.36 L716.34 352.36 L716.99 458.84 L717.29 458.84 L717.89 443.09 L718.49 436.62 L719.04 431.48 L719.23 427.63 L719.58 362.48 L719.98 362.48 L720.63 455.57 L720.93 455.57 L721.53 441.61 L722.13 436.62 L722.68 431.48 L722.87 427.63 L723.22 352.24 L723.62 352.24 L724.27 458.71 L724.57 458.71 L725.17 443.03 L725.77 436.62 L726.32 431.48 L726.5 427.63 L726.85 362.02 L727.25 362.02 L727.9 455.45 L728.2 455.45 L728.8 441.56 L729.4 436.62 L729.95 431.48 L730.14 427.63 L730.49 351.22 L730.89 351.22 L731.54 458.55 L731.84 458.55 L732.44 442.96 L733.04 436.62 L733.59 431.48 L733.77 427.63 L734.12 361.24 L734.52 361.24 L735.17 456.32 L735.47 456.32 L736.07 441.95 L736.67 436.62 L737.22 431.48 L737.41 427.63 L737.76 350.59 L738.16 350.59 L738.81 458.65 L739.11 458.65 L739.71 443 L740.31 436.62 L740.86 431.48 L741.05 427.63 L741.4 363.11 L741.8 363.11 L742.45 456.25 L742.75 456.25 L743.35 441.92 L743.95 436.62 L744.5 431.48 L744.68 427.63 L745.03 351.82 L745.43 351.82 L746.08 458.14 L746.38 458.14 L746.98 442.77 L747.58 436.62 L748.13 431.48 L748.32 427.63 L748.67 363.03 L749.07 363.03 L749.72 455.8 L750.02 455.8 L750.62 441.72 L751.22 436.62 L751.77 431.48 L751.95 427.63 L752.3 351.08 L752.7 351.08 L753.35 458.57 L753.65 458.57 L754.25 442.97 L754.85 436.62 L755.4 431.48 L755.59 427.63 L755.94 362.2 L756.34 362.2 L756.99 456.3 L757.29 456.3 L757.89 441.95 L758.49 436.62 L759.04 431.48 L759.23 427.63 L759.58 352.38 L759.98 352.38 L760.63 458.73 L760.93 458.73 L761.53 443.04 L762.13 436.62 L762.68 431.48 L762.86 427.63 L763.21 361.9 L763.61 361.9 L764.26 455.95 L764.56 455.95 L765.16 441.79 L765.76 436.62 L766.31 431.48 L766.5 427.63 L766.85 351.81 L767.25 351.81 L767.9 458.37 L768.2 458.37 L768.8 442.87 L769.4 436.62 L769.95 431.48 L770.13 427.63 L770.48 362.41 L770.88 362.41 L771.53 456.07 L771.83 456.07 L772.43 441.84 L773.03 436.62 L773.58 431.48 L773.77 427.63 L774.12 350.73 L774.52 350.73 L775.17 458.26 L775.47 458.26 L776.07 442.83 L776.67 436.62 L777.22 431.48 L777.41 427.63 L777.76 362.87 L778.16 362.87 L778.81 455.81 L779.11 455.81 L779.71 441.72 L780.31 436.62 L780.86 431.48 L781.04 427.63 L781.39 351.51 L781.79 351.51 L782.44 458.09 L782.74 458.09 L783.34 442.75 L783.94 436.62 L784.49 431.48 L784.68 427.63 L785.03 361.64 L785.43 361.64 L786.08 456.08 L786.38 456.08 L786.98 441.85 L787.58 436.62 L788.13 431.48 L788.31 427.63 L788.66 350.75 L789.06 350.75 L789.71 458.82 L790.01 458.82 L790.61 443.08 L791.21 436.62 L791.76 431.48 L791.95 427.63 L792.3 362.21 L792.7 362.21 L793.35 455.63 L793.65 455.63 L794.25 441.64 L794.85 436.62 L795.4 431.48 L795.59 427.63 L795.94 352.89 L796.34 352.89 L796.99 458.46 L797.29 458.46 L797.89 442.92 L798.49 436.62 L799.04 431.48 L799.22 427.63 L799.57 362.92 L799.97 362.92 L800.62 455.72 L800.92 455.72 L801.52 441.68 L802.12 436.62 L802.67 431.48 L802.86 427.63 L803.21 351.78 L803.61 351.78 L804.26 458.38 L804.56 458.38 L805.16 442.88 L805.76 436.62 L806.31 431.48 L806.49 427.63 L806.84 360.91 L807.24 360.91 L807.89 456.06 L808.19 456.06 L808.79 441.84 L809.39 436.62 L809.94 431.48 L810.13 427.63 L810.48 352.2 L810.88 352.2 L811.53 458.36 L811.83 458.36 L812.43 442.87 L813.03 436.62 L813.58 431.48 L813.77 427.63 L814.12 361.44 L814.52 361.44 L815.17 455.92 L815.47 455.92 L816.07 441.77 L816.67 436.62 L817.22 431.48 L817.4 427.63 L817.75 352.15 L818.15 352.15 L818.8 458.02 L819.1 458.02 L819.7 442.72 L820.3 436.62 L820.85 431.48 L821.04 427.63 L821.39 361.54 L821.79 361.54 L822.44 455.72 L822.74 455.72 L823.34 441.68 L823.94 436.62 L824.49 431.48 L824.67 427.63 L825.02 354.17 L825.42 354.17 L826.07 458.25 L826.37 458.25 L826.97 442.82 L827.57 436.62 L828.12 431.48 L828.31 427.63 L828.66 361.02 L829.06 361.02 L829.71 455.41 L830.01 455.41 L830.61 441.54 L831.21 436.62 L831.76 431.48 L831.95 427.63 L832.3 352.73 L832.7 352.73 L833.35 458.66 L833.65 458.66 L834.25 443 L834.85 436.62 L835.4 431.48 L835.58 427.63 L835.93 361.47 L836.33 361.47 L836.98 455.72 L837.28 455.72 L837.88 441.68 L838.48 436.62 L839.03 431.48 L839.22 427.63 L839.57 354.8 L839.97 354.8 L840.62 458.48 L840.92 458.48 L841.52 442.93 L842.12 436.62 L842.67 431.48 L842.85 427.63 L843.2 361.82 L843.6 361.82 L844.25 456.25 L844.55 456.25 L845.15 441.92 L845.75 436.62 L846.3 431.48 L846.49 427.63 L846.84 354.99 L847.24 354.99 L847.89 458.19 L848.19 458.19 L848.79 442.8 L849.39 436.62 L849.94 431.48 L850.13 427.63 L850.48 361.77 L850.88 361.77 L851.53 456.12 L851.83 456.12 L852.43 441.87 L853.03 436.62 L853.58 431.48 L853.76 427.63 L854.11 354.51 L854.51 354.51 L855.16 458.09 L855.46 458.09 L856.06 442.75 L856.66 436.62 L857.21 431.48 L857.4 427.63 L857.75 359.35 L858.15 359.35 L858.8 454.63 L859.1 454.63 L859.7 441.19 L860.3 436.62 L860.85 431.48 L861.03 427.63 L861.38 356.83 L861.78 356.83 L862.43 454.35 L862.73 454.35 L863.33 441.07 L863.93 436.62 L864.48 431.48 L864.67 427.63 L865.02 358.81 L865.42 358.81 L866.07 454.36 L866.37 454.36 L866.97 441.07 L867.57 436.62 L868.12 431.48 L868.31 427.63 L868.66 356.29 L869.06 356.29 L869.71 454.65 L870.01 454.65 L870.61 441.2 L871.21 436.62 L871.76 431.48 L871.94 427.63 L872.29 358.27 L872.69 358.27 L873.34 454.35 L873.64 454.35 L874.24 441.07 L874.84 436.62 L875.39 431.48 L875.58 427.63 L875.93 355.75 L876.33 355.75 L876.98 454.82 L877.28 454.82 L877.88 441.28 L878.48 436.62 L879.03 431.48 L879.21 427.63 L879.56 357.73 L879.96 357.73 L880.61 454.77 L880.91 454.77 L881.51 441.26 L882.11 436.62 L882.66 431.48 L882.85 427.63 L883.2 355.21 L883.6 355.21 L884.25 454.61 L884.55 454.61 L885.15 441.18 L885.75 436.62 L886.3 431.48 L886.49 427.63 L886.84 357.19 L887.24 357.19 L887.89 454.75 L888.19 454.75 L888.79 441.25 L889.39 436.62 L889.94 431.48 L890.12 427.63 L890.47 354.67 L890.87 354.67 L891.52 454.65 L891.82 454.65 L892.42 441.2 L893.02 436.62 L893.57 431.48 L893.76 427.63 L894.11 356.65 L894.51 356.65 L895.16 454.55 L895.46 454.55 L896.06 441.16 L896.66 436.62 L897.21 431.48 L897.39 427.63 L897.74 351.39 L898.14 351.39 L898.79 454.52 L899.09 454.52 L899.69 441.14 L900.29 436.62 L900.84 431.48 L901.03 427.63 L901.38 360.73 L901.78 360.73 L902.43 455.5 L902.73 455.5 L903.33 441.58 L903.93 436.62 L904.48 431.48 L904.67 427.63 L905.02 350.91 L905.42 350.91 L906.07 458.16 L906.37 458.16 L906.97 442.78 L907.57 436.62 L908.12 431.48 L908.3 427.63 L908.65 359.84 L909.05 359.84 L909.7 456.26 L910 456.26 L910.6 441.93 L911.2 436.62 L911.75 431.48 L911.94 427.63 L912.29 353 L912.69 353 L913.34 458.86 L913.64 458.86 L914.24 443.1 L914.84 436.62 L915.39 431.48 L915.57 427.63 L915.92 360.45 L916.32 360.45 L916.97 456.03 L917.27 456.03 L917.87 441.83 L918.47 436.62 L919.02 431.48 L919.21 427.63 L919.56 353.16 L919.96 353.16 L920.61 458.78 L920.91 458.78 L921.51 443.06 L922.11 436.62 L922.66 431.48 L922.85 427.63 L923.2 359.93 L923.6 359.93 L924.25 456.34 L924.55 456.34 L925.15 441.96 L925.75 436.62 L926.3 431.48 L926.48 427.63 L926.83 351.58 L927.23 351.58 L927.88 458.79 L928.18 458.79 L928.78 443.06 L929.38 436.62 L929.93 431.48 L930.12 427.63 L930.47 359.97 L930.87 359.97 L931.52 456.01 L931.82 456.01 L932.42 441.81 L933.02 436.62 L933.57 431.48 L933.75 427.63 L934.1 350.98 L934.5 350.98 L935.15 457.97 L935.45 457.97 L936.05 442.7 L936.65 436.62 L937.2 431.48 L937.39 427.63 L937.74 359.62 L938.14 359.62 L938.79 456.28 L939.09 456.28 L939.69 441.94 L940.29 436.62 L940.84 431.48 L941.03 427.63 L941.38 352.28 L941.78 352.28 L942.43 458.67 L942.73 458.67 L943.33 443.01 L943.93 436.62 L944.48 431.48 L944.66 427.63 L945.01 360.45 L945.41 360.45 L946.06 456.34 L946.36 456.34 L946.96 441.96 L947.56 436.62 L948.11 431.48 L948.3 427.63 L948.65 351.8 L949.05 351.8 L949.7 458.79 L950 458.79 L950.6 443.06 L951.2 436.62 L951.75 431.48 L951.93 427.63 L952.28 360.79 L952.68 360.79 L953.33 455.85 L953.63 455.85 L954.23 441.74 L954.83 436.62 L955.38 431.48 L955.57 427.63 L955.92 350.94 L956.32 350.94 L956.97 458.26 L957.27 458.26 L957.87 442.83 L958.47 436.62 L959.02 431.48" fill="none" stroke="#8dd6f0" stroke-width="1.9" stroke-linejoin="miter" stroke-linecap="round" stroke-miterlimit="1.5"/><rect x="699.4" y="426.99" width="259.1" height="10.91" fill="#8dd6f0"/></g>
<rect x="699.4" y="285.8" width="259.1" height="208.6" fill="none" stroke="#000" stroke-width="1.6"/>
<path d="M742.5 494.4v-4.0M785.7 494.4v-4.0M828.9 494.4v-4.0M872.1 494.4v-4.0M915.3 494.4v-4.0M720.9 494.4v-2.3M764.1 494.4v-2.3M807.3 494.4v-2.3M850.5 494.4v-2.3M893.7 494.4v-2.3M936.9 494.4v-2.3M699.4 462.3h4.0M699.4 430.2h4.0M699.4 398.1h4.0M699.4 366h4.0M699.4 333.9h4.0M699.4 301.8h4.0M699.4 478.35h2.3M699.4 446.25h2.3M699.4 414.15h2.3M699.4 382.05h2.3M699.4 349.95h2.3M699.4 317.85h2.3" stroke="#000" stroke-width="1.4" fill="none"/>
<text class="tk" x="699.3" y="509.6" text-anchor="middle">0.0</text><text class="tk" x="742.5" y="509.6" text-anchor="middle">0.5</text><text class="tk" x="785.7" y="509.6" text-anchor="middle">1.0</text><text class="tk" x="828.9" y="509.6" text-anchor="middle">1.5</text><text class="tk" x="872.1" y="509.6" text-anchor="middle">2.0</text><text class="tk" x="915.3" y="509.6" text-anchor="middle">2.5</text><text class="tk" x="958.5" y="509.6" text-anchor="middle">3.0</text>
<text class="tk" x="693.8" y="498.65" text-anchor="end">-200</text><text class="tk" x="693.8" y="466.55" text-anchor="end">-100</text><text class="tk" x="693.8" y="434.45" text-anchor="end">0</text><text class="tk" x="693.8" y="402.35" text-anchor="end">100</text><text class="tk" x="693.8" y="370.25" text-anchor="end">200</text><text class="tk" x="693.8" y="338.15" text-anchor="end">300</text><text class="tk" x="693.8" y="306.05" text-anchor="end">400</text>
<text class="ax" x="829" y="534.3" text-anchor="middle">Time (s)</text>
<text class="ax" style="font-size:15.8px" transform="translate(661,431.3) rotate(-90)">Voltage (V)</text>
<text class="lg" style="font-size:12.95px" x="759" y="317.4">1-Cell at 25 Hz : 41.8 <tspan class="sym" font-size="13">μ</tspan>W</text>
</g>
</svg>
</body>
</html>
